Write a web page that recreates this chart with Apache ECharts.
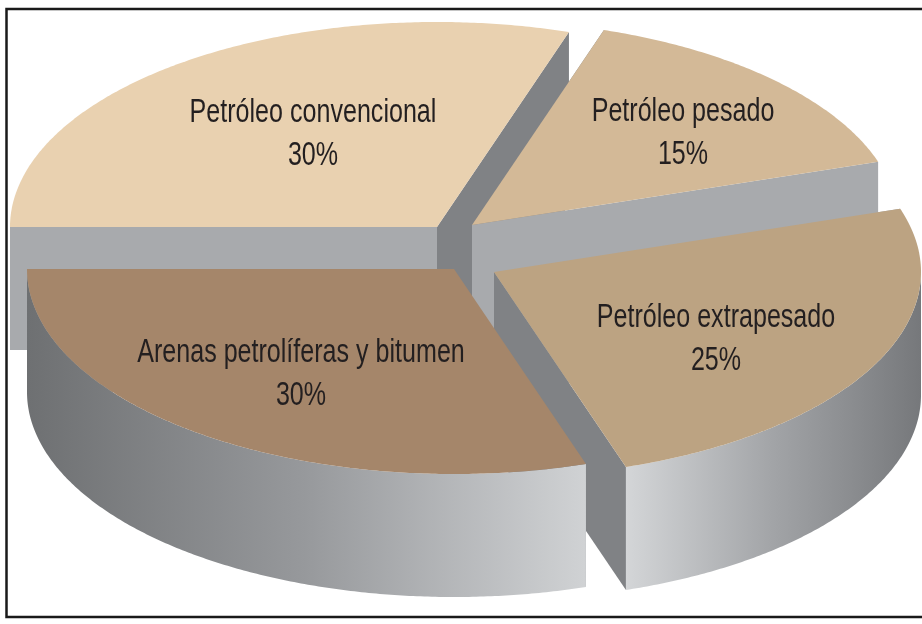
<!DOCTYPE html>
<html>
<head>
<meta charset="utf-8">
<style>html,body{margin:0;padding:0;background:#fff}#c{width:922px;height:624px}</style>
<script src="https://cdn.jsdelivr.net/npm/echarts@6/dist/echarts.min.js"></script>
</head>
<body>
<div id="c"></div>
<script>
const categories = ['Petróleo convencional', 'Petróleo pesado', 'Petróleo extrapesado', 'Arenas petrolíferas y bitumen'];
const shares = [30, 15, 25, 30];
const topColors = ['#e9d1b0', '#d3b997', '#bca382', '#a5866a'];

// Presentation of the tilted, exploded pie (pixels)
const RX = 427, RY = 205, DEPTH = 123;
const centers = [[437, 227], [472, 225], [494, 272], [454, 269]];
const labelPos = [[313, 134], [683, 133], [716, 339], [301, 374]];
const outerGrad = [null, null,
  [625, 921, ['#d4d6d8', '#a2a4a7', '#76787b']],
  [27, 585, ['#6e7072', '#97999c', '#d0d2d4']]];
const LIGHT = '#a8aaad', DARK = '#808285';
const START_DEG = 180;

const total = shares.reduce((a, b) => a + b, 0);
const pt = (c, deg, dy) => {
  const t = deg * Math.PI / 180;
  return [c[0] + RX * Math.cos(t), c[1] - RY * Math.sin(t) + (dy || 0)];
};
const arc = (c, a0, a1, dy) => {
  const n = Math.max(2, Math.ceil(Math.abs(a1 - a0) * 2)), out = [];
  for (let i = 0; i <= n; i++) out.push(pt(c, a0 + (a1 - a0) * i / n, dy));
  return out;
};
const poly = (points, fill, z) => ({
  type: 'polygon', shape: { points }, style: { fill, stroke: null }, z2: z
});
const edgeFill = deg => {
  const s = Math.abs(Math.sin(deg * Math.PI / 180));
  return s > 0.6 ? DARK : LIGHT;
};

function renderSlice(params, api) {
  const i = params.dataIndex;
  const before = shares.slice(0, i).reduce((a, b) => a + b, 0);
  const a0 = START_DEG - before / total * 360;
  const a1 = a0 - api.value(0) / total * 360;
  const c = centers[i];
  const kids = [];
  [a0, a1].forEach((a, k) => {
    const p = pt(c, a);
    kids.push(poly([c, p, [p[0], p[1] + DEPTH], [c[0], c[1] + DEPTH]], edgeFill(a), 1 + k));
  });
  const lo = Math.max(a1, -180), hi = Math.min(a0, 0);
  if (hi > lo && outerGrad[i]) {
    const g = outerGrad[i];
    const top = arc(c, hi, lo, 0), bottom = arc(c, lo, hi, DEPTH);
    kids.push(poly(top.concat(bottom), {
      type: 'linear', x: g[0], y: 0, x2: g[1], y2: 0, global: true,
      colorStops: g[2].map((color, k) => ({ offset: k / (g[2].length - 1), color }))
    }, 3));
  }
  kids.push(poly([c].concat(arc(c, a0, a1, 0)), topColors[i], 4));
  const l = labelPos[i];
  kids.push({
    type: 'text', z2: 5,
    x: l[0], y: l[1], scaleX: 0.76, scaleY: 1,
    style: {
      text: categories[i] + '\n' + api.value(0) + '%',
      x: 0, y: 0, align: 'center', verticalAlign: 'middle',
      fill: '#231f20', font: '33px "Liberation Sans", sans-serif',
      lineHeight: 43
    }
  });
  return { type: 'group', children: kids };
}

const chart = echarts.init(document.getElementById('c'), null, { renderer: 'canvas', width: 922, height: 624 });
chart.setOption({
  animation: false,
  backgroundColor: '#ffffff',
  graphic: [{
    type: 'polyline', z: 10, silent: true,
    shape: { points: [[922, 9], [6.5, 9], [6.5, 617], [922, 617]] },
    style: { stroke: '#1a1a1a', lineWidth: 2.5, fill: null }
  }],
  series: [{
    type: 'custom',
    coordinateSystem: 'none',
    renderItem: renderSlice,
    encode: { value: 0, itemName: 1 },
    data: shares.map((v, i) => ({ name: categories[i], value: [v] }))
  }]
});
</script>
</body>
</html>
